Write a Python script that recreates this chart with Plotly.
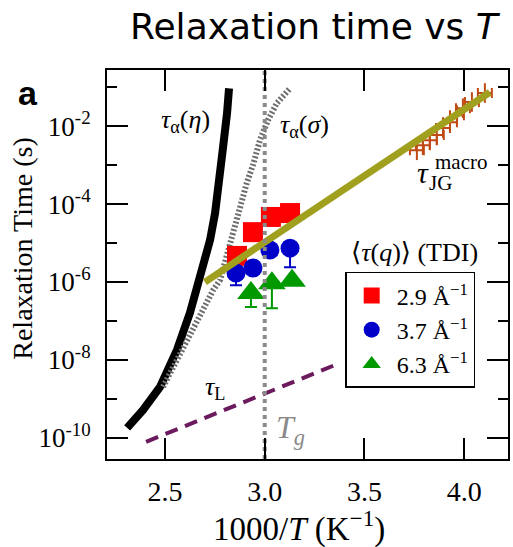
import plotly.graph_objects as go

# ---- data (log10 of relaxation time in s) ----
eta_x = [2.310, 2.390, 2.475, 2.560, 2.625, 2.665, 2.700, 2.726, 2.751, 2.776, 2.791, 2.811, 2.821]
eta_logy = [-9.74, -9.28, -8.69, -7.74, -6.79, -6.03, -5.51, -4.92, -4.23, -3.38, -2.54, -1.67, -1.03]

sig_x = [2.490, 2.560, 2.625, 2.685, 2.741, 2.776, 2.811, 2.841, 2.876, 2.911, 2.941, 2.976, 3.016, 3.061, 3.127]
sig_logy = [-8.69, -8.00, -7.41, -6.79, -6.21, -5.95, -5.26, -4.67, -4.08, -3.44, -3.00, -2.36, -1.85, -1.41, -1.03]

tauL_x = [2.405, 3.352]
tauL_logy = [-10.10, -8.13]

jg_line_x = [2.70, 4.129]
jg_line_logy = [-6.00, -1.13]

jg_x = [3.763, 3.793, 3.828, 3.863, 3.894, 3.929, 3.964, 3.994, 4.039, 4.104]
jg_logy = [-2.62, -2.49, -2.36, -2.23, -2.05, -1.90, -1.72, -1.54, -1.38, -1.15]

q29_x = [2.861, 2.941, 3.031, 3.127]
q29_logy = [-5.33, -4.72, -4.33, -4.23]

q37_x = [2.856, 2.941, 3.026, 3.127]
q37_logy = [-5.77, -5.64, -5.18, -5.13]
q37_low_logy = [-6.08, -5.64, -5.18, -5.62]

q63_x = [2.931, 3.036, 3.137]
q63_logy = [-6.28, -6.03, -5.97]
q63_low_logy = [-6.64, -6.67, -5.97]

tg_x = [3.0, 3.0]
tg_logy = [-10.54, -0.56]

x_ticks = [2.5, 3.0, 3.5, 4.0]
x_ticktext = ["2.5", "3.0", "3.5", "4.0"]
y_major_exp = [-10, -8, -6, -4, -2]
y_minor_exp = [-9, -7, -5, -3, -1]
legend_names = ["2.9 Å<sup>−1</sup>", "3.7 Å<sup>−1</sup>", "6.3 Å<sup>−1</sup>"]


def p10(v):
    return [10 ** e for e in v]


SERIF = "Liberation Serif, Times New Roman, DejaVu Serif, serif"

fig = go.Figure()

fig.add_trace(go.Scatter(x=eta_x, y=p10(eta_logy), mode="lines",
                         line=dict(color="black", width=8), showlegend=False))
fig.add_trace(go.Scatter(x=sig_x, y=p10(sig_logy), mode="lines",
                         line=dict(color="#6e6e6e", width=6, dash="2px,2px"), showlegend=False))
fig.add_trace(go.Scatter(x=tauL_x, y=p10(tauL_logy), mode="lines",
                         line=dict(color="#6b1a5e", width=4, dash="13px,8px"), showlegend=False))

y29 = p10(q29_logy)
fig.add_trace(go.Scatter(x=q29_x, y=y29, mode="markers", name=legend_names[0],
                         marker=dict(symbol="square", size=20, color="#ff0000")))
y37 = p10(q37_logy)
fig.add_trace(go.Scatter(x=q37_x, y=y37, mode="markers", name=legend_names[1],
                         marker=dict(symbol="circle", size=19, color="#0000c8"),
                         error_y=dict(type="data", symmetric=False, array=[0] * len(y37),
                                      arrayminus=[a - b for a, b in zip(y37, p10(q37_low_logy))],
                                      color="#0000c8", thickness=2, width=6)))
y63 = p10(q63_logy)
fig.add_trace(go.Scatter(x=q63_x, y=y63, mode="markers", name=legend_names[2],
                         marker=dict(symbol="triangle-up", size=24, color="#009900"),
                         error_y=dict(type="data", symmetric=False, array=[0] * len(y63),
                                      arrayminus=[a - b for a, b in zip(y63, p10(q63_low_logy))],
                                      color="#009900", thickness=2, width=6)))

fig.add_trace(go.Scatter(x=jg_x, y=p10(jg_logy), mode="markers",
                         marker=dict(symbol="line-ns", size=14, line=dict(color="#c04a14", width=2)),
                         error_x=dict(type="constant", value=0.035, color="#c04a14", thickness=2, width=5),
                         showlegend=False))
fig.add_trace(go.Scatter(x=jg_line_x, y=p10(jg_line_logy), mode="lines",
                         line=dict(color="#a0a01e", width=7), showlegend=False))
fig.add_trace(go.Scatter(x=tg_x, y=p10(tg_logy), mode="lines",
                         line=dict(color="#8a8a8a", width=4, dash="4px,4px"), showlegend=False))

ann = []
def A(x, y, text, size, color="black", xref="x", yref="y", **kw):
    fam = kw.pop("family", SERIF)
    ann.append(dict(x=x, y=y, xref=xref, yref=yref, text=text, showarrow=False,
                    xanchor=kw.pop("xanchor", "center"), yanchor=kw.pop("yanchor", "middle"),
                    font=dict(family=fam, size=size, color=color), **kw))

A(2.605, -1.87, "<i>τ</i><sub>α</sub>(<i>η</i>)", 26)
A(3.197, -2.0, "<i>τ</i><sub>α</sub>(<i>σ</i>)", 26)
A(3.793, -3.18, "<i>τ</i>", 30)
A(3.984, -2.92, "macro", 21)
A(3.880, -3.46, "JG", 21)
A(2.75, -8.72, "<i>τ</i><sub>L</sub>", 26)
A(3.128, -9.79, "<i>T</i><sub><i>g</i></sub>", 32, color="#8a8a8a")
A(3.753, -5.23, "⟨<i>τ</i>(<i>q</i>)⟩ (TDI)", 26)
A(-0.197, 0.941, "<b>a</b>", 34, xref="paper", yref="paper",
  family="Liberation Sans, Arial, sans-serif")
A(0.479, -0.174, "1000/<i>T</i> (K<sup>−1</sup>)", 33, xref="paper", yref="paper")
A(-0.21, 0.54, "Relaxation Time (s)", 28, xref="paper", yref="paper", textangle=-90)

fig.update_layout(
    width=513, height=547,
    margin=dict(l=107, r=5, t=70, b=88),
    paper_bgcolor="white", plot_bgcolor="white",
    title=dict(text="Relaxation time vs <i>T</i>", x=0.516, xref="paper", xanchor="center",
               y=0.9525, yref="container", yanchor="middle",
               font=dict(family="DejaVu Sans ExtraLight, DejaVu Sans, sans-serif", size=36, color="black")),
    annotations=ann,
    showlegend=True,
    legend=dict(x=0.594, y=0.481, xanchor="left", yanchor="top",
                bgcolor="white", bordercolor="black", borderwidth=1.5,
                font=dict(family=SERIF, size=24, color="black"),
                tracegroupgap=0, itemsizing="trace", itemwidth=40),
)

fig.update_xaxes(range=[2.209, 4.22], showgrid=False, zeroline=False, automargin=False,
                 showline=True, linecolor="black", linewidth=2, mirror="ticks",
                 ticks="inside", ticklen=21, tickwidth=2, tickcolor="black",
                 tickvals=x_ticks, ticktext=x_ticktext, ticklabelstandoff=6,
                 tickfont=dict(family=SERIF, size=28, color="black"))
fig.update_yaxes(type="log", range=[-10.54, -0.56], showgrid=False, zeroline=False, automargin=False,
                 showline=True, linecolor="black", linewidth=2, mirror="ticks",
                 ticks="inside", ticklen=21, tickwidth=2, tickcolor="black",
                 tickvals=p10(y_major_exp),
                 ticktext=["10<sup>-%d</sup>" % (-e) for e in y_major_exp],
                 ticklabelstandoff=9,
                 tickfont=dict(family=SERIF, size=27, color="black"),
                 minor=dict(tickvals=p10(y_minor_exp), ticks="inside", ticklen=10,
                            tickwidth=2, tickcolor="black", showgrid=False))

fig.write_html("out.html", config={"displayModeBar": False},
               post_script="document.body.style.margin='0px';")
